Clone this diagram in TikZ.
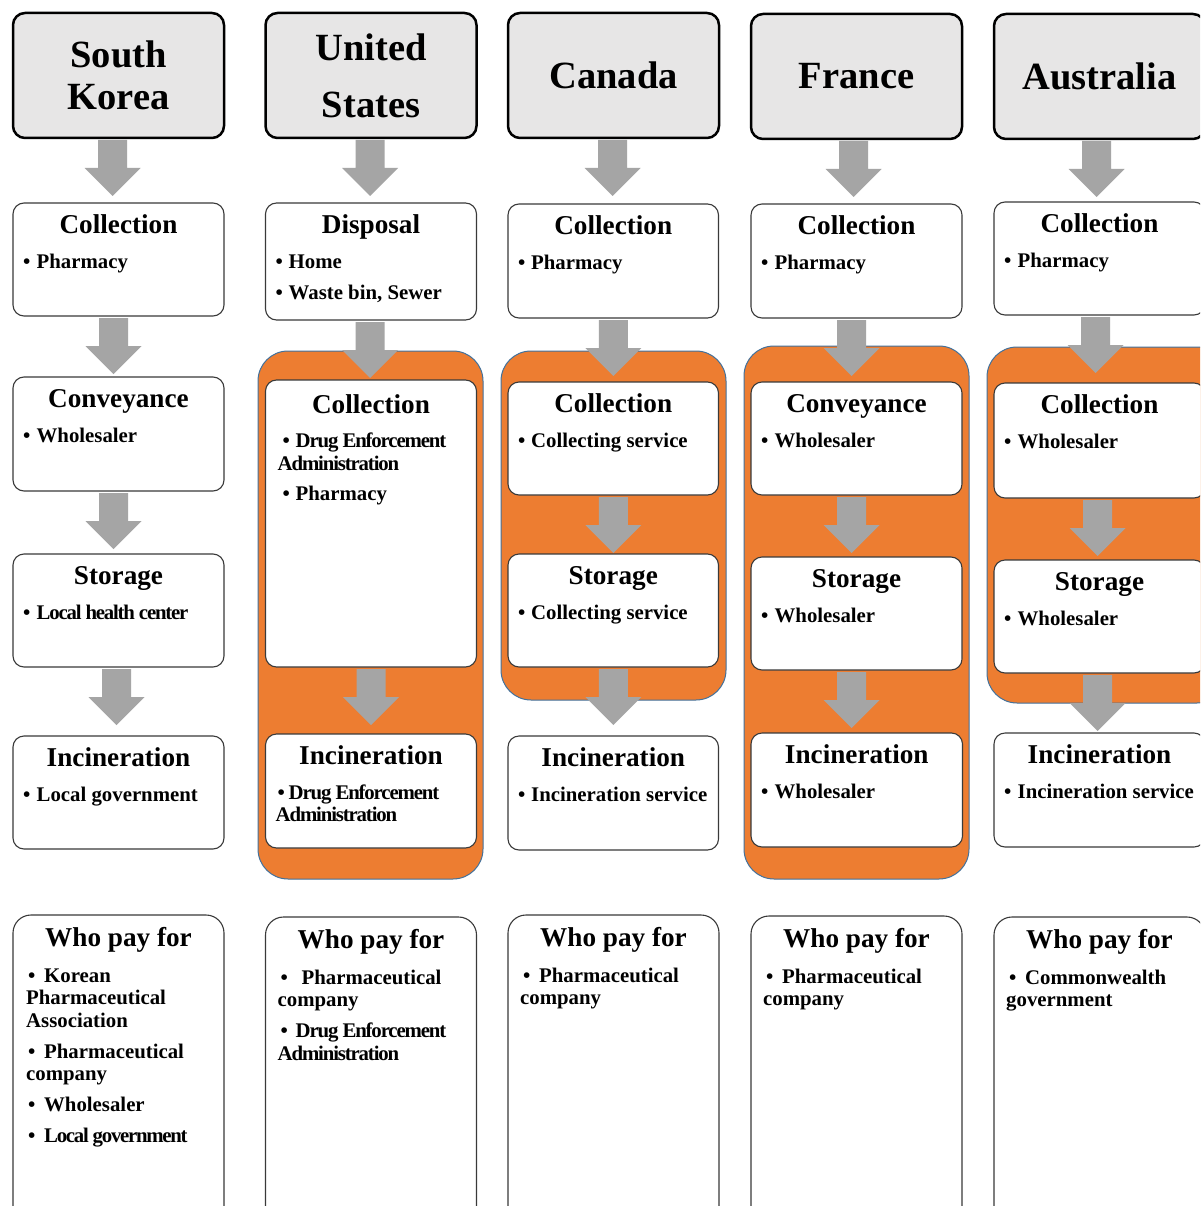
\documentclass[tikz,border=0pt]{standalone}
\usepackage{fontspec}
\setmainfont{Liberation Serif}
\usetikzlibrary{calc}
\definecolor{orangefill}{HTML}{ED7D31}
\definecolor{orangeline}{HTML}{41719C}
\definecolor{arrowgray}{HTML}{A5A5A5}
\definecolor{headfill}{HTML}{E7E6E6}
\definecolor{boxline}{HTML}{3A3A3A}

\newcommand\itm[2]{\hspace*{#1pt}\makebox[#2pt][l]{•}}
\newcommand\cnd[2]{{\addfontfeature{LetterSpace=#1}#2}}
\def\tyoff{0}

\tikzset{
  head/.style={draw=black, line width=2.5pt, fill=headfill, rounded corners=12pt, inner sep=0pt, outer sep=0pt},
  box/.style={draw=boxline, line width=1.1pt, fill=white, rounded corners=11pt, inner sep=0pt, outer sep=0pt},
  paybox/.style={box, rounded corners=18pt},
  group/.style={draw=orangeline, line width=1pt, fill=orangefill, rounded corners=30pt, inner sep=0pt, outer sep=0pt},
  htext/.style={font=\bfseries\fontsize{38.5}{42}\selectfont, align=center, inner sep=0pt},
  ttl/.style={font=\bfseries\fontsize{27.2}{30}\selectfont, anchor=base, inner sep=0pt},
  bul/.style={font=\bfseries\fontsize{20.8}{22.5}\selectfont, anchor=north west, align=left, inner sep=0pt},
}

% #1 optional x offset of text, #2 name, #3 left, #4 top, #5 right, #6 bottom, #7 title, #8 items
\newcommand\stdbox[8][10]{%
  \node[box, anchor=north west, minimum width={#5-#3}, minimum height={#6-#4}] (#2) at (#3,#4) {};
  \node[ttl] (#2-t) at ($(#2.north)+(0,30.5+\tyoff)$) {#7};
  \node[bul] (#2-l) at ($(#2.north west)+(#1,49+\tyoff)$) {\rule{0pt}{16pt}#8};
}
% #1 optional x offset, #2 name, #3 left, #4 top, #5 items
\newcommand\whobox[5][12]{%
  \node[paybox, anchor=north west, minimum width=211, minimum height=330] (#2) at (#3,#4) {};
  \node[ttl] (#2-t) at ($(#2.north)+(0,31)$) {Who pay for};
  \node[bul] (#2-l) at ($(#2.north west)+(#1,51)$) {\rule{0pt}{16pt}#5};
}
% #1 x shift, #2 source node
\newcommand\flow[2][0]{%
  \fill[arrowgray] ($(#2.south)+(#1-14.5,2)$) -- ($(#2.south)+(#1+14.5,2)$)
    -- ($(#2.south)+(#1+14.5,30)$) -- ($(#2.south)+(#1+28,30)$)
    -- ($(#2.south)+(#1,58)$) -- ($(#2.south)+(#1-28,30)$)
    -- ($(#2.south)+(#1-14.5,30)$) -- cycle;
}

\begin{document}
\begin{tikzpicture}[x=1pt,y=-1pt]
\clip (0,0) rectangle (1200,1206);
\fill[white] (0,0) rectangle (1200,1206);

% orange groups
\node[group, anchor=north west, minimum width=225, minimum height=528] (g2) at (258,351) {};
\node[group, anchor=north west, minimum width=225, minimum height=349] (g3) at (501,351) {};
\node[group, anchor=north west, minimum width=225, minimum height=533] (g4) at (744,346) {};
\node[group, anchor=north west, minimum width=240, minimum height=356] (g5) at (987,347) {};

% country heads
\node[head, anchor=north west, minimum width=211, minimum height=125] (h1) at (13,13) {};
\node[htext] (h1-t) at (h1.center) {South\\Korea};
\node[head, anchor=north west, minimum width=211, minimum height=125] (h2) at (265.5,13) {};
\node[htext] (h2-t) at (h2.center) {United\\[15pt]States};
\node[head, anchor=north west, minimum width=211, minimum height=125] (h3) at (508,13) {};
\node[htext] (h3-t) at (h3.center) {Canada};
\node[head, anchor=north west, minimum width=211, minimum height=125] (h4) at (751,14) {};
\node[htext] (h4-t) at (h4.center) {France};
\node[head, anchor=north west, minimum width=211, minimum height=125] (h5) at (994,14) {};
\node[htext] (h5-t) at (h5.center) {Australia};

% column 1: South Korea
\stdbox{c1a}{13}{203}{224}{316}{Collection}{\itm{0}{13.5}Pharmacy}
\stdbox{c1b}{13}{377}{224}{491}{Conveyance}{\itm{0}{13.5}Wholesaler}
\stdbox{c1c}{13}{554}{224}{667}{Storage}{\itm{0}{13.5}\cnd{-5.8}{Local health center}}
\stdbox{c1d}{13}{736}{224}{849}{Incineration}{\itm{0}{13.5}Local government}
\whobox[13]{c1w}{13}{915}{\itm{2}{16}Korean\\Pharmaceutical\\Association\\[8.5pt]\itm{2}{16}Pharmaceutical\\company\\[8.5pt]\itm{2}{16}Wholesaler\\[8.5pt]\itm{2}{16}\cnd{-6.1}{Local government}}

% column 2: United States
\stdbox{c2a}{265.5}{203}{476.5}{320}{Disposal}{\itm{0}{13}Home\\[8.5pt]\itm{0}{13}Waste bin, Sewer}
\def\tyoff{2.5}
\stdbox[12]{c2b}{265.5}{380}{476.5}{667}{Collection}{\itm{5}{13}\cnd{-5.5}{Drug Enforcement}\\\cnd{-5.5}{Administration}\\[8pt]\itm{5}{13}Pharmacy}
\def\tyoff{0}
\stdbox[10]{c2c}{265.5}{734}{476.5}{848}{Incineration}{\itm{2}{11}\cnd{-5.5}{Drug Enforcement}\\\cnd{-5.5}{Administration}}
\whobox[12]{c2w}{265.5}{917}{\itm{3}{21}Pharmaceutical\\company\\[8.5pt]\itm{3}{15}\cnd{-5.5}{Drug Enforcement}\\\cnd{-5.5}{Administration}}

% column 3: Canada
\stdbox{c3a}{508}{204}{718.5}{318}{Collection}{\itm{0}{13}Pharmacy}
\stdbox{c3b}{508}{382}{718.5}{495}{Collection}{\itm{0}{13}Collecting service}
\stdbox{c3c}{508}{554}{718.5}{667}{Storage}{\itm{0}{13}Collecting service}
\stdbox{c3d}{508}{736}{718.5}{850}{Incineration}{\itm{0}{13}Incineration service}
\whobox[12]{c3w}{508}{915}{\itm{3}{16}Pharmaceutical\\company}

% column 4: France
\stdbox{c4a}{751}{204}{962}{318}{Collection}{\itm{0}{13.5}Pharmacy}
\stdbox{c4b}{751}{382}{962}{495}{Conveyance}{\itm{0}{13.5}Wholesaler}
\stdbox{c4c}{751}{557}{962}{670}{Storage}{\itm{0}{13.5}Wholesaler}
\stdbox{c4d}{751}{733}{962.5}{847}{Incineration}{\itm{0}{13.5}Wholesaler}
\whobox[12]{c4w}{751}{916}{\itm{3}{16}Pharmaceutical\\company}

% column 5: Australia
\stdbox{c5a}{994}{202}{1205}{315}{Collection}{\itm{0}{13.5}Pharmacy}
\stdbox{c5b}{994}{383}{1205}{498}{Collection}{\itm{0}{13.5}Wholesaler}
\stdbox{c5c}{994}{560}{1205}{673}{Storage}{\itm{0}{13.5}Wholesaler}
\stdbox{c5d}{994}{733}{1205}{847}{Incineration}{\itm{0}{13.5}Incineration service}
\whobox[12]{c5w}{994}{917}{\itm{3}{16}Commonwealth\\government}

% flow arrows
\flow[-6]{h1} \flow[-5]{c1a} \flow[-5]{c1b} \flow[-2]{c1c}
\flow[-1]{h2} \flow[-1]{c2a} \flow[0]{c2b}
\flow[-1]{h3} \flow[0]{c3a} \flow[0]{c3b} \flow[0]{c3c}
\flow[-3]{h4} \flow[-5]{c4a} \flow[-5]{c4b} \flow[-5]{c4c}
\flow[-3]{h5} \flow[-4]{c5a} \flow[-2]{c5b} \flow[-2]{c5c}
\end{tikzpicture}
\end{document}
